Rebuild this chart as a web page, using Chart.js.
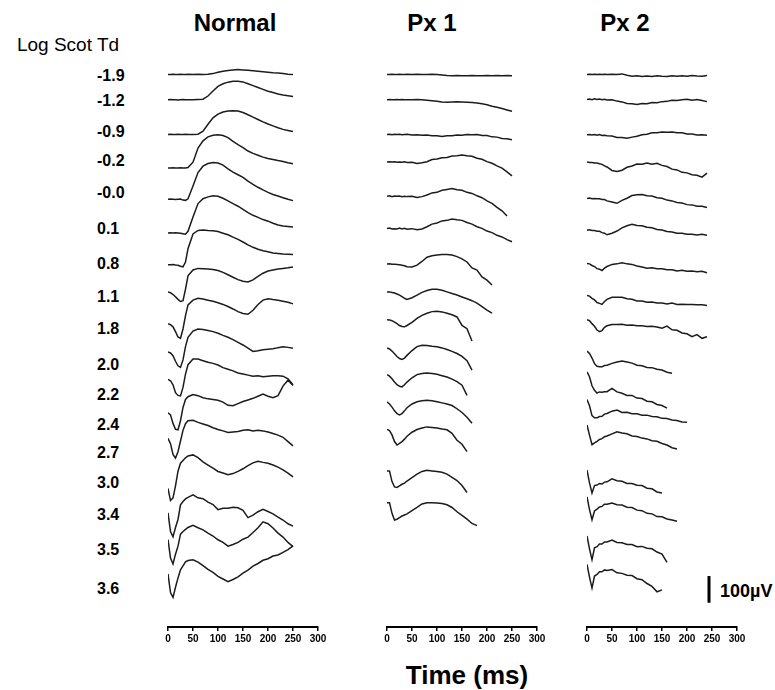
<!DOCTYPE html>
<html>
<head>
<meta charset="utf-8">
<script src="https://cdn.jsdelivr.net/npm/chart.js@4.4.0/dist/chart.umd.min.js"></script>
<style>
  body { margin: 0; background: #fff; font-family: "Liberation Sans", Arial, sans-serif; color: #000; }
  #wrap { position: relative; width: 775px; height: 690px; overflow: hidden; }
  canvas { position: absolute; }
  .c { position: absolute; white-space: nowrap; transform: translate(-50%, -50%); }
  .lab { position: absolute; white-space: nowrap; font-weight: bold; font-size: 16px; transform: translateY(-50%); }
</style>
</head>
<body>
<div id="wrap">
  <div class="c" style="left:235px;top:23px;font-size:24px;font-weight:bold">Normal</div>
  <div class="c" style="left:432px;top:23px;font-size:24px;font-weight:bold">Px 1</div>
  <div class="c" style="left:625px;top:23px;font-size:24px;font-weight:bold">Px 2</div>
  <div class="c" style="left:68px;top:45px;font-size:19px">Log Scot Td</div>
  <div class="c" style="left:467px;top:675px;font-size:26px;font-weight:bold">Time (ms)</div>
  <div id="bar" class="lab" style="left:720px;top:591px;font-size:18px"></div>
  <div id="labels"></div>
  <canvas id="normalChart" width="182" height="617" style="left:152px;top:40px"></canvas>
  <canvas id="px1Chart" width="182" height="617" style="left:371px;top:40px"></canvas>
  <canvas id="px2Chart" width="182" height="617" style="left:571px;top:40px"></canvas>
</div>
<script>
// sample times (ms)
var times = [0,5,10,15,20,25,30,35,40,50,60,70,80,90,100,110,120,130,140,150,160,170,180,190,200,210,220,230,240,250];

// flash strengths
var intensities = ['-1.9','-1.2','-0.9','-0.2','-0.0','0.1','0.8','1.1','1.8','2.0','2.2','2.4','2.7','3.0','3.4','3.5','3.6'];

var scaleBarUV = 100;

// Normal subject, uV relative to each trace's start
var normalTraces = [
  [0,0,1,0,0,1,0,0,1, 0,1,0,1,3,8,12,15,17,18,17,16,14,12,10,8,6,5,3,1,0],
  [0,1,0,0,-1,0,1,0,0, 0,1,2,14,33,50,60,66,69,69,67,60,53,46,39,32,27,22,18,15,12],
  [0,1,0,0,1,0,0,1,0, 0,1,12,38,62,76,84,88,89,88,82,74,65,56,47,39,32,25,19,15,11],
  [0,0,1,0,0,1,0,0,2, 22,75,102,117,123,125,122,114,100,88,77,64,55,48,41,36,32,28,25,20,16],
  [0,1,0,-1,0,1,-3,-4,2, 50,100,124,134,138,136,128,114,102,92,82,68,56,45,35,26,18,12,6,0,-5],
  [0,1,0,1,0,-1,-3,-5,6, 60,110,128,135,139,137,130,120,110,100,88,76,66,58,50,44,36,30,26,24,22],
  [0,0,1,-1,-2,-6,-8,10,60, 115,128,130,128,127,124,118,112,103,95,85,74,65,58,52,48,44,42,40,39,38],
  [0,-3,-10,-18,-28,-36,-33,10,60, 82,88,87,86,84,80,73,64,55,46,40,37,45,58,70,78,82,86,88,90,93],
  [0,-4,-12,-30,-50,-55,-20,30,70, 88,95,92,88,84,78,72,64,55,45,38,35,50,72,88,93,90,88,84,80,74],
  [0,-4,-14,-35,-52,-58,-30,20,55, 78,86,84,80,76,70,62,55,46,36,26,14,2,4,8,10,12,16,19,17,14],
  [0,-5,-20,-50,-60,-62,-30,20,55, 76,76,70,64,60,54,44,38,32,24,20,16,12,14,10,12,14,14,12,2,-20],
  [0,-8,-40,-62,-64,-30,20,50,60, 68,64,56,52,50,47,40,28,26,34,42,48,54,62,70,62,56,64,100,122,102],
  [0,-20,-60,-74,-50,-10,30,55,66, 68,60,54,48,40,33,28,22,24,26,30,32,28,30,28,24,18,12,4,-12,-28],
  [-50,-95,-85,-40,15,45,55,65,72, 76,66,50,38,26,14,8,2,6,14,24,36,46,52,48,45,38,30,20,8,-6],
  [0,-70,-90,-55,-25,30,42,52,58, 67,56,53,40,31,12,17,17,21,19,9,-18,-9,4,13,5,-4,-16,-27,-41,-50],
  [0,-70,-92,-55,-25,20,30,38,45, 53,44,36,24,13,-1,-11,-25,-19,-11,1,9,26,44,66,59,43,24,9,-11,-27],
  [0,-70,-88,-50,-15,15,30,45,50, 53,44,31,17,6,-9,-19,-29,-21,-11,3,14,29,39,51,57,67,71,81,91,105]
];

// Px 1
var px1Traces = [
  [0,0,1,0,0,1,0,0,1, 0,1,0,0,1,0,-2,-4,-5,-4,-5,-5,-4,-5,-5,-4,-5,-4,-5,-4,-5],
  [0,1,0,0,1,0,1,0,0, 0,1,0,-2,-4,-6,-8,-9,-8,-7,-8,-9,-10,-12,-15,-19,-24,-28,-33,-38,-43],
  [0,1,-1,1,0,1,-1,0,1, -2,-1,-3,-2,-5,-5,-8,-5,-5,-2,-3,0,-1,0,-4,-4,-9,-10,-15,-16,-20],
  [0,1,0,1,-1,0,-1,1,-2, -1,-6,-3,1,9,11,16,17,22,23,26,23,21,14,10,1,-5,-15,-23,-37,-52],
  [0,2,-1,1,0,1,-1,0,-1, 0,-4,-1,5,13,15,23,26,29,25,23,15,11,2,-5,-17,-26,-41,-54,-74],
  [0,2,-1,0,-1,2,-1,1,-2, 0,-4,-1,7,17,21,29,31,36,33,31,23,17,7,1,-9,-15,-25,-31,-41,-49],
  [0,1,0,0,-1,-2,-4,-6,-10, -11,-4,10,26,31,34,36,36,34,28,20,8,-14,-22,-48,-60,-78],
  [0,0,-2,-4,-8,-12,-18,-24,-28, -22,-12,-2,5,10,10,6,0,-6,-12,-19,-26,-33,-42,-55,-68,-80],
  [0,-1,-4,-9,-15,-22,-26,-27,-22, -10,5,16,24,30,31,29,24,18,10,-22,-34,-80],
  [0,-4,-12,-22,-32,-40,-43,-38,-28, -10,5,10,9,6,4,0,-6,-13,-21,-32,-48,-83],
  [0,-6,-16,-28,-38,-44,-46,-38,-28, -12,0,4,6,4,1,-4,-9,-17,-26,-40,-78],
  [0,-8,-20,-34,-44,-49,-44,-34,-22, -8,0,4,6,4,0,-4,-8,-14,-26,-40,-58,-80],
  [0,-4,-20,-45,-58,-52,-45,-36,-25, -10,0,6,10,8,6,2,-1,-14,-40,-55,-83],
  [0,0,-40,-60,-62,-56,-50,-46,-38, -25,-12,-2,2,0,-2,-5,-12,-24,-36,-55,-81],
  [0,0,-40,-65,-62,-56,-50,-46,-42, -30,-18,-5,0,0,-1,-3,-8,-18,-34,-48,-62,-78,-86]
];

// Px 2
var px2Traces = [
  [0,1,0,1,0,1,0,1,0, 1,0,2,-3,-7,-5,-8,-6,-8,-5,-7,-8,-5,-7,-5,-7,-4,-6,-7,-4],
  [0,2,-1,3,0,2,-1,1,-2, -1,-6,-9,-15,-16,-19,-15,-16,-11,-12,-8,-7,-3,-4,-1,1,-3,0,-4,-8],
  [0,1,-1,1,-2,1,-3,-2,-4, -5,-10,-10,-13,-9,-6,0,2,7,7,10,9,10,7,7,3,3,-1,0,-2],
  [0,-2,-2,-4,-4,-7,-9,-15,-19, -32,-36,-31,-20,-15,-8,-9,-4,-9,-5,-13,-17,-27,-30,-39,-41,-48,-50,-57,-42],
  [0,2,-1,0,-1,-1,-4,-4,-9, -13,-18,-7,1,11,14,15,10,9,3,1,-6,-9,-15,-17,-23,-24,-29,-29,-34],
  [0,2,-1,-1,-4,-4,-9,-11,-17, -11,-3,9,17,22,18,17,11,9,3,1,-5,-7,-11,-11,-15,-15,-18,-15,-19],
  [0,-1,-7,-11,-19,-21,-26,-17,-11, -3,-1,3,-1,-3,-9,-13,-17,-16,-19,-19,-23,-23,-28,-25,-29,-28,-31,-29,-34],
  [0,-3,-11,-17,-27,-30,-34,-23,-15, -7,-7,-7,-13,-15,-21,-21,-26,-25,-29,-29,-32,-29,-34,-33,-34,-34,-35,-35,-38],
  [0,-4,-15,-25,-39,-45,-41,-29,-23, -18,-18,-17,-21,-20,-23,-23,-26,-25,-28,-32,-24,-38,-40,-50,-53,-64,-56,-70,-64],
  [0,-9,-26,-47,-57,-59,-59,-54,-53, -46,-41,-37,-41,-45,-53,-55,-61,-62,-68,-71,-79,-83],
  [0,-18,-52,-69,-79,-75,-76,-74,-74, -62,-75,-80,-88,-88,-98,-100,-110,-112,-122,-126,-136],
  [0,-24,-61,-69,-69,-64,-63,-55,-53, -44,-40,-49,-48,-54,-54,-59,-59,-64,-65,-71,-72,-77,-79,-85,-86],
  [0,-38,-74,-67,-61,-54,-51,-44,-41, -33,-25,-30,-33,-41,-43,-49,-52,-59,-61,-69,-75,-85,-90],
  [0,-48,-86,-58,-56,-50,-52,-45,-44, -33,-40,-42,-50,-50,-57,-58,-68,-70,-82,-86],
  [0,-48,-86,-53,-46,-38,-36,-28,-28, -23,-30,-31,-39,-40,-50,-52,-62,-64,-74,-75,-83,-87,-92],
  [0,-48,-89,-44,-40,-30,-30,-22,-22, -15,-24,-25,-32,-32,-40,-39,-46,-48,-60,-68,-99],
  [0,-48,-89,-44,-38,-28,-28,-21,-23, -20,-32,-34,-41,-42,-54,-58,-72,-83,-103,-96]
];

// layout: vertical stacking offset of each trace (uV) and label rows (px)
var normalOffset = [2071,1976,1846,1720,1603,1477,1358,1256,1137,1031,928,803,707,569,428,328,199];
var px1Offset = [2071,1976,1846,1743,1614,1493,1360,1256,1152,1046,946,844,740,585,466];
var px2Offset = [2071,1977,1845,1743,1606,1487,1362,1243,1152,1034,956,853,757,588,488,341,235];
var labelTop = [76,101,132,161,193,229,264,297,329,365,395,425,453,483,515,550,589];

function buildSets(traces, offsets) {
  var sets = [];
  for (var k = 0; k < traces.length; k++) {
    var pts = [];
    for (var i = 0; i < traces[k].length; i++) {
      pts.push({x: times[i], y: traces[k][i] + offsets[k]});
    }
    sets.push({
      label: intensities[k],
      data: pts,
      borderColor: '#1c1c1c',
      borderWidth: 1.5,
      pointRadius: 0,
      tension: 0,
      fill: false
    });
  }
  return sets;
}

function makeChart(id, sets) {
  return new Chart(document.getElementById(id), {
    type: 'line',
    data: {datasets: sets},
    options: {
      responsive: false,
      animation: false,
      layout: {padding: {left: 16, right: 16, top: 0, bottom: 0}},
      plugins: {legend: {display: false}, tooltip: {enabled: false}},
      scales: {
        x: {
          type: 'linear', min: 0, max: 300,
          afterFit: function (s) { s.height = 30; },
          border: {display: true, color: '#000', width: 2},
          grid: {display: true, drawOnChartArea: false, drawTicks: true, tickLength: 4, color: '#000', lineWidth: 1.5},
          ticks: {
            stepSize: 50, padding: 2, color: '#000', maxRotation: 0, autoSkip: false,
            font: {family: '"Liberation Sans Narrow", "Liberation Sans", Arial', size: 10, weight: 'bold'}
          }
        },
        y: {display: false, min: 0, max: 2200}
      }
    }
  });
}

makeChart('normalChart', buildSets(normalTraces, normalOffset));
makeChart('px1Chart', buildSets(px1Traces, px1Offset));

var px2Sets = buildSets(px2Traces, px2Offset);
// 100 uV calibration bar
px2Sets.push({data: [{x: 244, y: 91}, {x: 244, y: 91 + scaleBarUV}], borderColor: '#000', borderWidth: 3, pointRadius: 0});
makeChart('px2Chart', px2Sets);

document.getElementById('bar').textContent = scaleBarUV + '\u00b5V';

var html = '';
for (var i = 0; i < intensities.length; i++) {
  html += '<div class="lab" style="left:97px;top:' + labelTop[i] + 'px">' + intensities[i] + '</div>';
}
document.getElementById('labels').innerHTML = html;
</script>
</body>
</html>
